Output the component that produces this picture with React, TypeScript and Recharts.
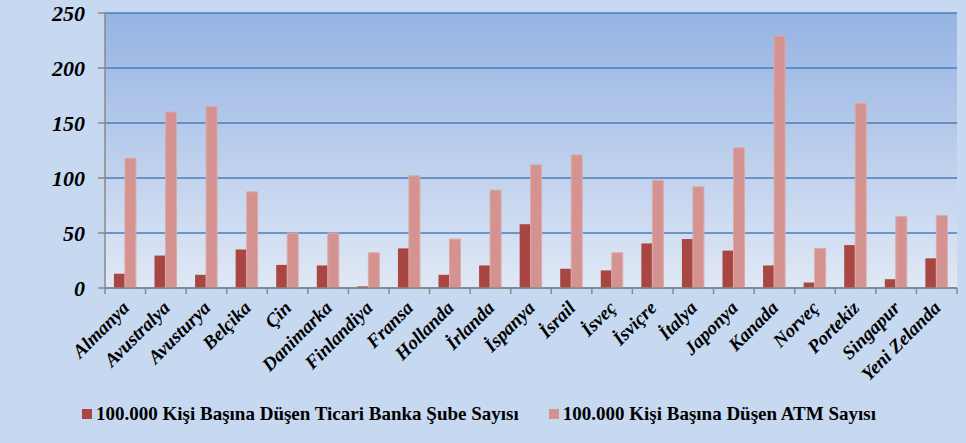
import React from "react";
import {
  BarChart,
  Bar,
  XAxis,
  YAxis,
  CartesianGrid,
  Legend,
} from "recharts";

const categories = [
  "Almanya", "Avustralya", "Avusturya", "Belçika", "Çin", "Danimarka",
  "Finlandiya", "Fransa", "Hollanda", "İrlanda", "İspanya", "İsrail",
  "İsveç", "İsviçre", "İtalya", "Japonya", "Kanada", "Norveç",
  "Portekiz", "Singapur", "Yeni Zelanda",
];
const subeValues = [
  13, 29.5, 12, 35, 21, 20.5, 1.5, 36, 12, 20.5, 58, 17.5, 16, 40.5, 44.5,
  34, 20.5, 5, 39, 8, 27,
];
const atmValues = [
  118, 160, 165, 87.5, 50, 50, 32, 102, 44.5, 89, 112, 121, 32, 98, 92,
  127.5, 229, 36, 168, 65, 66,
];
const yTicks = [0, 50, 100, 150, 200, 250];
const seriesNames = [
  "100.000 Kişi Başına Düşen Ticari Banka Şube Sayısı",
  "100.000 Kişi Başına Düşen ATM Sayısı",
];

const data = categories.map((name, i) => ({
  name,
  sube: subeValues[i],
  atm: atmValues[i],
}));

const W = 966;
const H = 443;
const FONT = "'Liberation Serif', 'Times New Roman', serif";
const DARK = "#a94642";
const LIGHT = "#d49391";
const AXIS = "#898989";
const PLOT_W = 852;

// category labels rotated 45deg, tick marks sit between categories
const CategoryTick = (props: any) => {
  const { x, y, payload, index } = props;
  const band = PLOT_W / categories.length;
  const tx = x + 5;
  const ty = y + 21;
  return (
    <g>
      <line x1={x - band / 2} x2={x - band / 2} y1={y} y2={y + 6} stroke={AXIS} strokeWidth={1.5} />
      {index === categories.length - 1 && (
        <line x1={x + band / 2} x2={x + band / 2} y1={y} y2={y + 6} stroke={AXIS} strokeWidth={1.5} />
      )}
      <text
        x={tx}
        y={ty}
        textAnchor="end"
        transform={`rotate(-45 ${tx} ${ty})`}
        style={{ fontFamily: FONT, fontWeight: 700, fontStyle: "italic", fontSize: 19 }}
        fill="#000"
      >
        {payload.value}
      </text>
    </g>
  );
};

const LegendContent = () => (
  <div
    style={{
      display: "flex",
      justifyContent: "center",
      gap: 30,
      fontFamily: FONT,
      fontWeight: 700,
      fontSize: 19,
      color: "#000",
      paddingRight: 8,
    }}
  >
    {seriesNames.map((n, i) => (
      <div key={n} style={{ display: "flex", alignItems: "center" }}>
        <span
          style={{
            display: "inline-block",
            width: 10,
            height: 10,
            background: i === 0 ? DARK : LIGHT,
            marginRight: 4,
          }}
        />
        <span>{n}</span>
      </div>
    ))}
  </div>
);

export default function App() {
  return (
    <div
      style={{
        position: "absolute",
        left: 0,
        top: 0,
        width: W,
        height: H,
        background: "#c6d9f1",
      }}
    >
      <BarChart
        width={W}
        height={H}
        data={data}
        margin={{ top: 13, right: 9, left: 0, bottom: 0 }}
        barCategoryGap="22%"
        barGap={0}
      >
        <defs>
          <linearGradient id="plotBg" x1="0" y1="0" x2="0" y2="1">
            <stop offset="0%" stopColor="#95b3e3" />
            <stop offset="100%" stopColor="#e0e8f5" />
          </linearGradient>
        </defs>
        <CartesianGrid
          vertical={false}
          stroke="#4a7ebb"
          strokeWidth={1.5}
          fill="url(#plotBg)"
          fillOpacity={1}
        />
        <XAxis
          dataKey="name"
          interval={0}
          height={133}
          tickSize={0}
          tickMargin={0}
          tickLine={false}
          axisLine={{ stroke: AXIS, strokeWidth: 1.5 }}
          tick={<CategoryTick />}
        />
        <YAxis
          width={105}
          domain={[0, 250]}
          ticks={yTicks}
          interval={0}
          tickSize={7}
          tickMargin={13}
          tickLine={{ stroke: AXIS, strokeWidth: 1.5 }}
          axisLine={{ stroke: AXIS, strokeWidth: 1.5 }}
          tick={{
            fontFamily: FONT,
            fontWeight: 700,
            fontStyle: "italic",
            fontSize: 22,
            fill: "#000",
          }}
        />
        <Legend
          content={<LegendContent />}
          wrapperStyle={{ top: 403, left: 0, width: W }}
        />
        <Bar dataKey="sube" name={seriesNames[0]} fill={DARK} isAnimationActive={false} />
        <Bar dataKey="atm" name={seriesNames[1]} fill={LIGHT} stroke="#dcaaa8" strokeWidth={1} isAnimationActive={false} />
      </BarChart>
    </div>
  );
}
